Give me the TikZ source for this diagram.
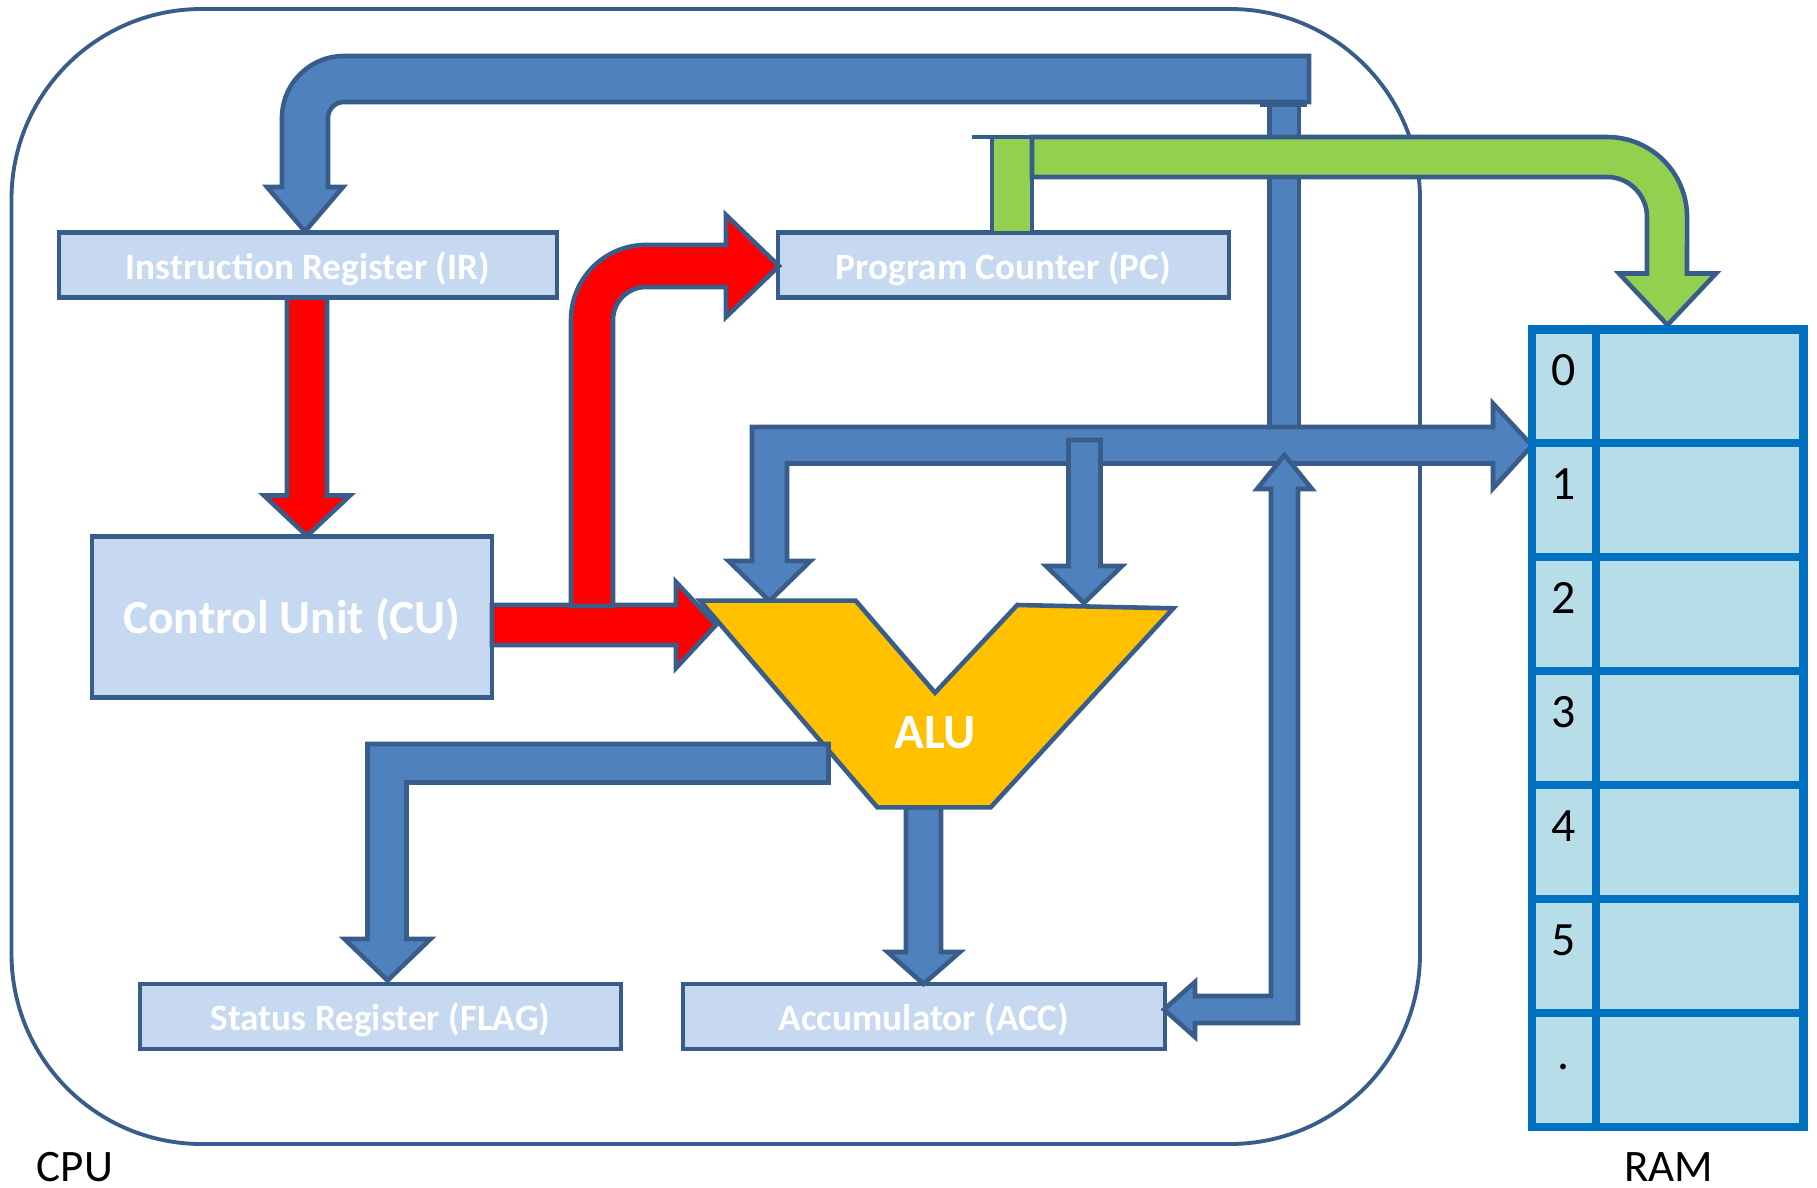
\documentclass[tikz,border=0pt]{standalone}
\usepackage{fontspec}
\setmainfont{Carlito}
\definecolor{cpuedge}{RGB}{56,93,138}
\definecolor{cpublue}{RGB}{79,129,189}
\definecolor{cpubox}{RGB}{198,217,241}
\definecolor{cpured}{RGB}{255,0,0}
\definecolor{cpugreen}{RGB}{146,208,80}
\definecolor{cpuamber}{RGB}{255,192,0}
\definecolor{ramedge}{RGB}{0,112,192}
\definecolor{ramfill}{RGB}{183,222,232}
\usetikzlibrary{arrows.meta}

\begin{document}
\begin{tikzpicture}[x=0.01cm, y=-0.01cm,
  node_reg/.style={draw=cpuedge, fill=cpubox, line width=1.3pt, minimum height=0.65cm, inner sep=0pt, text=white, text height=8pt, text depth=0pt, font=\fontsize{10.6}{12}\selectfont\bfseries},
  arr_blue/.style={draw=cpuedge, fill=cpublue, line width=1.3pt},
  arr_red/.style={draw=cpuedge, fill=cpured, line width=1.3pt},
  arr_green/.style={draw=cpuedge, fill=cpugreen, line width=1.3pt},
  node_lbl/.style={inner sep=0pt, text=black, font=\fontsize{12.8}{14}\selectfont},
  node_addr/.style={inner sep=0pt, anchor=base, text=black, font=\fontsize{13.6}{15}\selectfont}
]
  \useasboundingbox (0,0) rectangle (1817,1188);

  %% CPU frame
  \draw[draw=cpuedge, line width=1.1pt, rounded corners=1.9cm] (11.5,9) rectangle (1420,1144);

  %% Registers
  \node[node_reg, minimum width=4.98cm] (ir) at (308,265) {Instruction Register (IR)};
  \node[node_reg, minimum width=4.51cm] (pc) at (1003.5,265) {Program Counter (PC)};
  \node[node_reg, minimum width=4.00cm, minimum height=1.61cm, text height=9.8pt, text depth=0.4pt, font=\fontsize{13.5}{16}\selectfont\bfseries] (cu) at (292,617) {Control Unit (CU)};
  \node[node_reg, minimum width=4.81cm] (flag) at (380.5,1016.5) {Status Register (FLAG)};
  \node[node_reg, minimum width=4.82cm] (acc) at (924,1016.5) {Accumulator (ACC)};

  %% Data bus back to IR
  \draw[arr_blue] (1309,56) -- (344,56) arc[start angle=90, end angle=180, radius=0.62cm] -- (282,187) -- (267,187) -- (305,231.5) -- (343,187) -- (328,187) -- (328,118) arc[start angle=180, end angle=90, radius=0.16cm] -- (1309,102) -- cycle;
  \draw[arr_blue] (1269.5,104) rectangle (1299,427);
  \draw[cpuedge, line width=1.3pt] (1260,104.5) -- (1307,104.5);

  %% Address bus PC -> RAM
  \draw[arr_green] (992,137) rectangle (1032,233);
  \draw[arr_green] (1032,137) -- (1607,137) arc[start angle=90, end angle=0, radius=0.8cm] -- (1687,273.5) -- (1716,273.5) -- (1667.5,325) -- (1619,273.5) -- (1647,273.5) -- (1647,217) arc[start angle=0, end angle=90, radius=0.4cm] -- (1032,177) -- cycle;
  \draw[cpuedge, line width=1.3pt] (972,137) -- (1052,137);

  %% Control signals
  \draw[arr_red] (492,605) -- (676,605) -- (676,582) -- (716,625) -- (676,668) -- (676,645) -- (492,645) -- cycle;
  \draw[arr_red] (571,606) -- (571,320) arc[start angle=180, end angle=90, radius=0.75cm] -- (726,245) -- (726,215) -- (779,266) -- (726,317) -- (726,287) -- (646,287) arc[start angle=90, end angle=180, radius=0.33cm] -- (613,606) -- cycle;
  \draw[arr_red] (287,297.5) -- (287,495.5) -- (264,495.5) -- (307,536) -- (350,495.5) -- (327,495.5) -- (327,297.5) -- cycle;

  %% Internal bus
  \draw[arr_blue] (752,561) -- (752,427) -- (1493,427) -- (1493,403.5) -- (1532,445.5) -- (1493,488.5) -- (1493,463.5) -- (787,463.5) -- (787,561) -- (810.5,561) -- (769.5,601) -- (728.5,561) -- cycle;
  \draw[arr_blue] (1068.5,440) -- (1068.5,566) -- (1046,566) -- (1084,603) -- (1122,566) -- (1100.5,566) -- (1100.5,440) -- cycle;
  \draw[arr_blue] (1164,1009.5) -- (1195,982) -- (1195,996) -- (1271,996) -- (1271,489) -- (1257,489) -- (1284.5,455) -- (1312,489) -- (1298,489) -- (1298,1023) -- (1195,1023) -- (1195,1037) -- cycle;

  %% ALU
  \draw[arr_blue] (906,807) -- (906,952) -- (887.5,952) -- (923.5,984) -- (960,952) -- (941,952) -- (941,807) -- cycle;
  \draw[draw=cpuedge, fill=cpuamber, line width=1.3pt] (700,600.7) -- (855.7,600.7) -- (935,692.7) -- (1017.3,605) -- (1173.3,608.3) -- (990.7,807.3) -- (877.3,807.3) -- cycle;
  \node[inner sep=0pt, text=white, font=\fontsize{14}{16}\selectfont\bfseries] (alu) at (935,733) {ALU};
  \draw[arr_blue] (828.5,744) -- (367.5,744) -- (367.5,939) -- (344.5,939) -- (387.5,980.5) -- (430.5,939) -- (406.5,939) -- (406.5,782.5) -- (828.5,782.5) -- cycle;

  %% RAM
  \draw[draw=ramedge, fill=ramfill, line width=2.3pt] (1532,329.5) rectangle (1803.5,1127);
  \foreach \i in {1,...,6}
    \draw[ramedge, line width=2.3pt] (1532,{329.5+\i*113.93}) -- (1803.5,{329.5+\i*113.93});
  \draw[ramedge, line width=2.3pt] (1596,329.5) -- (1596,1127);
  \foreach \lbl [count=\i from 0] in {0,1,2,3,4,5,.}
    \node[node_addr] (addr\i) at (1564,{386+\i*113.93}) {\lbl};

  %% Labels
  \node[node_lbl] (cpu) at (75,1167) {CPU};
  \node[node_lbl] (ram) at (1668.5,1167) {RAM};
\end{tikzpicture}
\end{document}
